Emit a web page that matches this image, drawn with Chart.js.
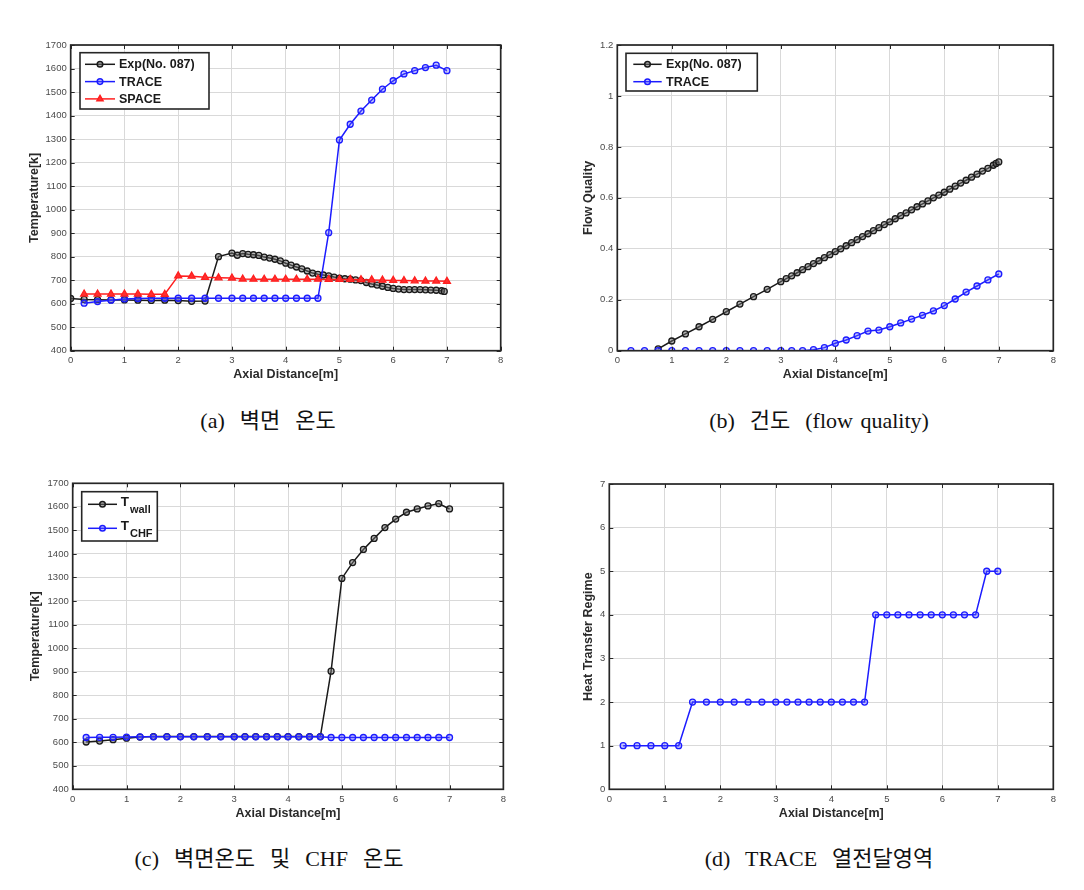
<!DOCTYPE html>
<html>
<head>
<meta charset="utf-8">
<script src="https://cdn.jsdelivr.net/npm/chart.js@4.4.1/dist/chart.umd.min.js"></script>
<style>
    body { margin: 0; background: #fff; width: 1084px; height: 890px; position: relative; overflow: hidden; }
    canvas { position: absolute; }
    .cap {
        position: absolute;
        font-family: "Liberation Serif", "Noto Sans CJK KR", serif;
        font-size: 22px;
        line-height: 26px;
        word-spacing: 2px;
        color: #111;
        white-space: pre;
        transform: translateX(-50%);
    }
</style>
</head>
<body>
<canvas id="chartA" width="500" height="350" style="left:10px;top:35px"></canvas>
<canvas id="chartB" width="500" height="350" style="left:560px;top:35px"></canvas>
<canvas id="chartC" width="500" height="350" style="left:10px;top:473px"></canvas>
<canvas id="chartD" width="500" height="350" style="left:560px;top:473px"></canvas>

<div class="cap" style="left:268px;top:408px">(a)  벽면  온도</div>
<div class="cap" style="left:819px;top:408px">(b)  건도  (flow quality)</div>
<div class="cap" style="left:269px;top:846px">(c)  벽면온도  및  CHF  온도</div>
<div class="cap" style="left:819px;top:846px">(d)  TRACE  열전달영역</div>

<script>
        // ---- data ----

        // shared axial grid of the TRACE / SPACE nodes
        const nodeX = [0.25, 0.5, 0.75, 1, 1.25, 1.5, 1.75, 2, 2.25, 2.5, 2.75, 3,
            3.2, 3.4, 3.6, 3.8, 4, 4.2, 4.4, 4.6, 4.8, 5, 5.2, 5.4, 5.6, 5.8, 6, 6.2, 6.4, 6.6, 6.8, 7];

        // (a) wall temperature
        const expXa = [0, 0.25, 0.5, 0.75, 1, 1.25, 1.5, 1.75, 2, 2.25, 2.5, 2.75,
            3, 3.1, 3.2, 3.3, 3.4, 3.5, 3.6, 3.7, 3.8, 3.9, 4, 4.1, 4.2, 4.3, 4.4, 4.5, 4.6, 4.7, 4.8, 4.9,
            5, 5.1, 5.2, 5.3, 5.4, 5.5, 5.6, 5.7, 5.8, 5.9, 6, 6.1, 6.2, 6.3, 6.4, 6.5, 6.6, 6.7, 6.8, 6.9, 6.95];
        const expTa = [622, 618, 617, 616, 616, 615, 614, 615, 613, 610, 611, 800,
            815, 806, 813, 810, 808, 805, 798, 794, 789, 782, 772, 764, 756, 748, 739, 730, 725, 722, 718, 713,
            709, 706, 704, 701, 698, 690, 684, 679, 674, 669, 665, 662, 660, 660, 660, 660, 659, 658, 657, 655, 652];
        const traceTa = [602, 609, 615, 620, 622, 623, 623, 623, 623, 623, 623, 623,
            623, 623, 623, 623, 623, 623, 623, 623, 902, 1296, 1363, 1419, 1466, 1512, 1548, 1577, 1591, 1604, 1614, 1591];
        const spaceTa = [641, 641, 641, 641, 641, 640, 640, 718, 717, 712, 710, 709,
            705, 704, 704, 704, 704, 704, 704, 704, 703, 703, 703, 702, 701, 700, 699, 698, 697, 696, 696, 695];

        // (b) flow quality
        const expXb = [0.75, 1, 1.25, 1.5, 1.75, 2, 2.25, 2.5, 2.75,
            3, 3.1, 3.2, 3.3, 3.4, 3.5, 3.6, 3.7, 3.8, 3.9, 4, 4.1, 4.2, 4.3, 4.4, 4.5, 4.6, 4.7, 4.8, 4.9,
            5, 5.1, 5.2, 5.3, 5.4, 5.5, 5.6, 5.7, 5.8, 5.9, 6, 6.1, 6.2, 6.3, 6.4, 6.5, 6.6, 6.7, 6.8, 6.9, 6.95, 7];
        const expQb = [0.007, 0.038, 0.066, 0.094, 0.123, 0.153, 0.183, 0.212, 0.241,
            0.271, 0.283, 0.294, 0.306, 0.318, 0.33, 0.342, 0.353, 0.365, 0.377, 0.389, 0.4, 0.412, 0.424, 0.436,
            0.448, 0.459, 0.471, 0.483, 0.495, 0.506, 0.518, 0.53, 0.541, 0.553, 0.565, 0.576, 0.588, 0.6, 0.611,
            0.622, 0.634, 0.646, 0.658, 0.669, 0.681, 0.693, 0.705, 0.716, 0.728, 0.735, 0.741];
        const traceQb = [0, 0, 0, 0, 0, 0, 0, 0, 0, 0, 0, 0,
            0, 0, 0.004, 0.012, 0.029, 0.042, 0.059, 0.077, 0.081, 0.094, 0.109, 0.124, 0.139, 0.156,
            0.177, 0.203, 0.23, 0.254, 0.278, 0.301];

        // (c) wall and CHF temperature
        const wallTc = [601, 605, 611, 617, 622, 624, 624, 624, 624, 624, 624, 624,
            624, 624, 624, 624, 624, 624, 624, 624, 902, 1296, 1363, 1419, 1466, 1512, 1548, 1577, 1591, 1604, 1614, 1591];
        const chfTc = [620, 621, 621, 622, 623, 623, 623, 623, 623, 623, 623, 623,
            623, 623, 623, 623, 623, 623, 623, 623, 620, 620, 620, 620, 620, 620, 620, 620, 620, 620, 620, 620];

        // (d) heat transfer regime
        const regimeD = [1, 1, 1, 1, 1, 2, 2, 2, 2, 2, 2, 2,
            2, 2, 2, 2, 2, 2, 2, 2, 4, 4, 4, 4, 4, 4, 4, 4, 4, 4, 5, 5];

        // axes
        const xTicks = [0, 1, 2, 3, 4, 5, 6, 7, 8];
        const tempTicks = [400, 500, 600, 700, 800, 900, 1000, 1100, 1200, 1300, 1400, 1500, 1600, 1700];
        const qualityTicks = [0, 0.2, 0.4, 0.6, 0.8, 1, 1.2];
        const qualityLabels = ['0', '0.2', '0.4', '0.6', '0.8', '1', '1.2'];
        const regimeTicks = [0, 1, 2, 3, 4, 5, 6, 7];

        const legendA = ['Exp(No. 087)', 'TRACE', 'SPACE'];
        const legendB = ['Exp(No. 087)', 'TRACE'];
        const legendC = [['T', 'wall'], ['T', 'CHF']];

        // ---- style ----
        const colors = {
            black: '#1a1a1a',
            blackFill: 'rgba(110, 110, 110, 0.5)',
            blue: '#1c1cff',
            blueFill: 'rgba(90, 90, 255, 0.35)',
            red: '#ff1f1f',
            redFill: '#ff3030',
            grid: '#d9d9d9',
            box: '#262626',
            tick: '#4a4a4a'
        };

        Chart.defaults.font.family = '"Liberation Sans", Arial, sans-serif';
        Chart.defaults.animation = false;

        function series(label, xs, ys, color, fill, style, order) {
            return {
                label: label,
                data: xs.map((x, i) => ({ x: x, y: ys[i] })),
                borderColor: color,
                backgroundColor: fill,
                borderWidth: 1.5,
                pointStyle: style,
                pointRadius: style === 'triangle' ? 4 : 3,
                pointBorderWidth: 1.3,
                pointBorderColor: color,
                pointBackgroundColor: fill,
                tension: 0,
                order: order
            };
        }

        // MATLAB-like box with inward tick marks
        const matlabBox = {
            id: 'matlabBox',
            afterDatasetsDraw(chart) {
                const { ctx, chartArea: a, scales } = chart;
                ctx.save();
                ctx.strokeStyle = colors.box;
                ctx.lineWidth = 1;
                ctx.beginPath();
                scales.x.ticks.forEach(t => {
                    const px = Math.round(scales.x.getPixelForValue(t.value)) + 0.5;
                    ctx.moveTo(px, a.bottom); ctx.lineTo(px, a.bottom - 4);
                    ctx.moveTo(px, a.top); ctx.lineTo(px, a.top + 4);
                });
                scales.y.ticks.forEach(t => {
                    const py = Math.round(scales.y.getPixelForValue(t.value)) + 0.5;
                    ctx.moveTo(a.left, py); ctx.lineTo(a.left + 4, py);
                    ctx.moveTo(a.right, py); ctx.lineTo(a.right - 4, py);
                });
                ctx.stroke();
                ctx.lineWidth = 1.7;
                ctx.strokeRect(a.left, a.top, a.right - a.left, a.bottom - a.top);
                ctx.restore();
            }
        };

        // legend box drawn inside the plot area
        const boxLegend = {
            id: 'boxLegend',
            afterDraw(chart, args, opts) {
                if (!opts.labels) return;
                const { ctx, chartArea: a } = chart;
                const left = a.left + opts.left, top = a.top + opts.top;
                ctx.save();
                ctx.fillStyle = '#fff';
                ctx.fillRect(left, top, opts.width, opts.height);
                ctx.strokeStyle = colors.box;
                ctx.lineWidth = 1.6;
                ctx.strokeRect(left, top, opts.width, opts.height);

                chart.data.datasets.forEach((ds, i) => {
                    const y = top + opts.firstRow + i * opts.rowGap;
                    ctx.strokeStyle = ds.borderColor;
                    ctx.lineWidth = 1.5;
                    ctx.beginPath();
                    ctx.moveTo(left + opts.lineFrom, y);
                    ctx.lineTo(left + opts.lineTo, y);
                    ctx.stroke();
                    ctx.fillStyle = ds.pointBackgroundColor;
                    Chart.helpers.drawPoint(ctx, {
                        pointStyle: ds.pointStyle,
                        radius: ds.pointStyle === 'triangle' ? 3.5 : 2.8,
                        borderWidth: 1.2,
                        rotation: 0
                    }, left + (opts.lineFrom + opts.lineTo) / 2, y);

                    const lab = opts.labels[i];
                    ctx.fillStyle = colors.black;
                    ctx.textBaseline = 'middle';
                    ctx.textAlign = 'left';
                    ctx.font = 'bold 12.5px "Liberation Sans", Arial, sans-serif';
                    if (Array.isArray(lab)) {
                        ctx.font = 'bold 13.5px "Liberation Sans", Arial, sans-serif';
                        ctx.fillText(lab[0], left + opts.textX, y - 2);
                        const w = ctx.measureText(lab[0]).width;
                        ctx.font = 'bold 11px "Liberation Sans", Arial, sans-serif';
                        ctx.fillText(lab[1], left + opts.textX + w + 1, y + 6);
                    } else {
                        ctx.fillText(lab, left + opts.textX, y + 0.5);
                    }
                });
                ctx.restore();
            }
        };

        function makeChart(id, datasets, cfg) {
            const titleFont = { size: 12.5, weight: 'bold' };
            return new Chart(document.getElementById(id), {
                type: 'line',
                data: { datasets: datasets },
                options: {
                    responsive: false,
                    layout: { padding: { top: cfg.padTop, right: cfg.padRight, left: 0, bottom: 0 } },
                    plugins: {
                        legend: { display: false },
                        tooltip: { enabled: false },
                        boxLegend: cfg.legend || {}
                    },
                    scales: {
                        x: {
                            type: 'linear',
                            min: 0,
                            max: 8,
                            afterBuildTicks: s => { s.ticks = xTicks.map(v => ({ value: v })); },
                            afterFit: s => { s.height = cfg.xHeight; },
                            grid: { color: colors.grid, lineWidth: 1, drawTicks: false },
                            border: { display: false },
                            ticks: { color: colors.tick, font: { size: 9.5 }, padding: 4, maxRotation: 0 },
                            title: {
                                display: true,
                                text: 'Axial Distance[m]',
                                color: '#2a2a2a',
                                font: titleFont,
                                padding: { top: 0, bottom: cfg.xTitlePad }
                            }
                        },
                        y: {
                            type: 'linear',
                            min: cfg.yMin,
                            max: cfg.yMax,
                            afterBuildTicks: s => { s.ticks = cfg.yTicks.map(v => ({ value: v })); },
                            afterFit: s => { s.width = cfg.yWidth; },
                            grid: { color: colors.grid, lineWidth: 1, drawTicks: false },
                            border: { display: false },
                            ticks: {
                                color: colors.tick,
                                font: { size: 9.5 },
                                padding: 4,
                                callback: cfg.yLabels ? (v, i) => cfg.yLabels[i] : v => String(v)
                            },
                            title: {
                                display: true,
                                text: cfg.yTitle,
                                color: '#2a2a2a',
                                font: titleFont,
                                padding: { top: cfg.yTitlePad, bottom: 0 }
                            }
                        }
                    }
                },
                plugins: [matlabBox, boxLegend]
            });
        }

        // (a) wall temperature
        makeChart('chartA', [
            series('Exp(No. 087)', expXa, expTa, colors.black, colors.blackFill, 'circle', 2),
            series('TRACE', nodeX, traceTa, colors.blue, colors.blueFill, 'circle', 1),
            series('SPACE', nodeX, spaceTa, colors.red, colors.redFill, 'triangle', 0)
        ], {
            padTop: 10, padRight: 9.3, xHeight: 34.3, yWidth: 60.7,
            xTitlePad: 2.5, yTitlePad: 17,
            yMin: 400, yMax: 1700, yTicks: tempTicks, yTitle: 'Temperature[k]',
            legend: { labels: legendA, left: 9.3, top: 7.7, width: 129, height: 56.3,
                firstRow: 11.6, rowGap: 17.3, lineFrom: 5, lineTo: 35, textX: 39 }
        });

        // (b) flow quality
        makeChart('chartB', [
            series('Exp(No. 087)', expXb, expQb, colors.black, colors.blackFill, 'circle', 1),
            series('TRACE', nodeX, traceQb, colors.blue, colors.blueFill, 'circle', 0)
        ], {
            padTop: 10, padRight: 6.7, xHeight: 34.3, yWidth: 57.3,
            xTitlePad: 2.5, yTitlePad: 20.8,
            yMin: 0, yMax: 1.2, yTicks: qualityTicks, yLabels: qualityLabels, yTitle: 'Flow Quality',
            legend: { labels: legendB, left: 8.7, top: 8.3, width: 131.3, height: 37.7,
                firstRow: 11, rowGap: 17.4, lineFrom: 7.3, lineTo: 35.7, textX: 40 }
        });

        // (c) wall vs CHF temperature
        makeChart('chartC', [
            series('T_wall', nodeX, wallTc, colors.black, colors.blackFill, 'circle', 1),
            series('T_CHF', nodeX, chfTc, colors.blue, colors.blueFill, 'circle', 0)
        ], {
            padTop: 10.3, padRight: 6, xHeight: 33.7, yWidth: 62.7,
            xTitlePad: 2.2, yTitlePad: 18.5,
            yMin: 400, yMax: 1700, yTicks: tempTicks, yTitle: 'Temperature[k]',
            legend: { labels: legendC, left: 9, top: 8.4, width: 75.6, height: 49.3,
                firstRow: 12.6, rowGap: 24, lineFrom: 6.3, lineTo: 35.3, textX: 39 }
        });

        // (d) TRACE heat transfer regime
        makeChart('chartD', [
            series('Regime', nodeX, regimeD, colors.blue, colors.blueFill, 'circle', 0)
        ], {
            padTop: 11, padRight: 6.7, xHeight: 33.7, yWidth: 49.3,
            xTitlePad: 1.5, yTitlePad: 20.8,
            yMin: 0, yMax: 7, yTicks: regimeTicks, yTitle: 'Heat Transfer Regime'
        });
</script>
</body>
</html>
